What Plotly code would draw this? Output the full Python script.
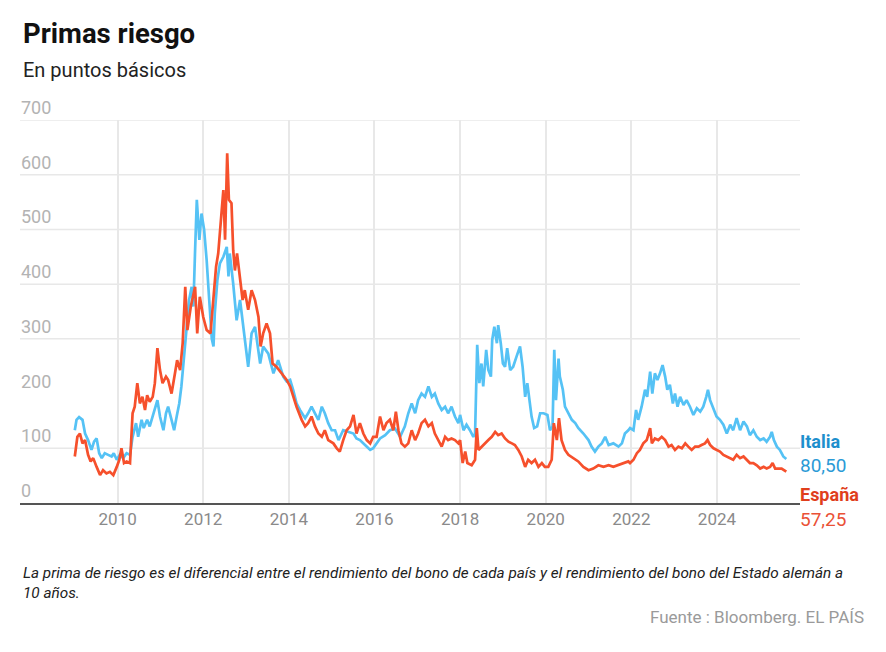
import plotly.graph_objects as go

# ---------------- data ----------------
ITALY_T = [2009.00, 2009.04, 2009.10, 2009.18, 2009.24, 2009.31, 2009.39, 2009.45, 2009.51, 2009.57,
           2009.63, 2009.70, 2009.78, 2009.86, 2009.91, 2009.98, 2010.05, 2010.13, 2010.21, 2010.29,
           2010.35, 2010.43, 2010.48, 2010.56, 2010.61, 2010.69, 2010.75, 2010.82, 2010.87, 2010.93,
           2010.99, 2011.07, 2011.13, 2011.18, 2011.26, 2011.32, 2011.38, 2011.44, 2011.49, 2011.55,
           2011.61, 2011.67, 2011.73, 2011.77, 2011.81, 2011.85, 2011.91, 2011.96, 2012.02, 2012.08,
           2012.14, 2012.20, 2012.24, 2012.27, 2012.33, 2012.39, 2012.47, 2012.55, 2012.59,
           2012.62, 2012.70, 2012.78, 2012.86, 2012.97, 2013.05, 2013.13, 2013.21, 2013.33, 2013.40,
           2013.52, 2013.64, 2013.75, 2013.87, 2013.95,
           2014.03, 2014.10, 2014.18, 2014.26, 2014.38, 2014.45, 2014.53, 2014.61, 2014.69, 2014.77,
           2014.84, 2014.92, 2015.00, 2015.08, 2015.16, 2015.27, 2015.39, 2015.51, 2015.58, 2015.66,
           2015.78, 2015.90, 2015.97, 2016.05, 2016.13, 2016.25, 2016.36, 2016.48, 2016.60, 2016.71,
           2016.79, 2016.87, 2016.95, 2017.02, 2017.10, 2017.18, 2017.26, 2017.34, 2017.41, 2017.49,
           2017.57, 2017.65, 2017.72, 2017.80, 2017.88, 2017.96,
           2018.00, 2018.08, 2018.15, 2018.23, 2018.31, 2018.35, 2018.40, 2018.45, 2018.50, 2018.54,
           2018.61, 2018.66, 2018.72, 2018.75, 2018.80, 2018.86, 2018.89, 2018.95, 2019.00, 2019.05,
           2019.10, 2019.17, 2019.24, 2019.32, 2019.40, 2019.46, 2019.52, 2019.57, 2019.62, 2019.67,
           2019.73, 2019.80, 2019.87, 2019.95, 2020.04, 2020.10, 2020.16, 2020.20, 2020.24, 2020.30,
           2020.33, 2020.40, 2020.45, 2020.53, 2020.61, 2020.69, 2020.76, 2020.88, 2021.00, 2021.07,
           2021.15, 2021.23, 2021.31, 2021.39, 2021.47, 2021.58, 2021.70, 2021.78, 2021.85, 2021.93,
           2021.97, 2022.05, 2022.11, 2022.16, 2022.24, 2022.32, 2022.37, 2022.44, 2022.49, 2022.55,
           2022.61, 2022.67, 2022.73, 2022.79, 2022.84, 2022.90, 2022.97, 2023.02, 2023.08, 2023.14,
           2023.22, 2023.29, 2023.37, 2023.45, 2023.53, 2023.61, 2023.68, 2023.75, 2023.79, 2023.84,
           2023.92, 2023.99, 2024.07, 2024.15, 2024.23, 2024.31, 2024.38, 2024.46, 2024.54, 2024.62,
           2024.70, 2024.77, 2024.85, 2024.93, 2025.01, 2025.09, 2025.16, 2025.24, 2025.28, 2025.33,
           2025.40, 2025.47, 2025.55, 2025.62]
ITALY_V = [133, 152, 157, 152, 127, 115, 97, 112, 118, 91,
           82, 91, 88, 85, 91, 79, 88, 82, 91, 88,
           121, 146, 121, 152, 137, 152, 140, 158, 170, 188,
           158, 133, 164, 176, 152, 133, 158, 182, 213, 261,
           310, 371, 395, 359, 462, 554, 481, 529, 500, 444,
           371, 300, 286, 347, 407, 438, 450, 468, 414,
           456, 401, 334, 371, 298, 249, 310, 322, 255, 286,
           273, 237, 261, 231, 222,
           225, 207, 182, 170, 155, 164, 176, 164, 152, 176,
           164, 146, 133, 133, 115, 133, 130, 127, 118, 115,
           106, 97, 100, 109, 118, 124, 133, 136, 121, 140,
           164, 182, 164, 188, 200, 194, 213, 194, 200, 182,
           170, 176, 164, 176, 158, 146,
           161, 133, 143, 133, 121, 127, 289, 219, 255, 213,
           280, 243, 231, 298, 322, 292, 325, 292, 255, 249,
           283, 243, 249, 268, 286, 249, 194, 219, 188, 158,
           137, 140, 164, 164, 161, 133, 140, 280, 188, 264,
           231, 207, 176, 164, 152, 146, 137, 127, 115, 103,
           94, 103, 109, 121, 106, 109, 103, 109, 127, 133,
           137, 133, 170, 152, 176, 207, 194, 240, 200, 237,
           225, 237, 252, 231, 207, 216, 182, 200, 176, 194,
           179, 188, 176, 161, 173, 167, 176, 194, 207, 188,
           170, 158, 152, 143, 127, 143, 133, 155, 133, 149,
           140, 124, 133, 121, 115, 118, 112, 121, 130, 115,
           103, 97, 85, 80.5]

SPAIN_T = [2009.00, 2009.06, 2009.12, 2009.18, 2009.24, 2009.31, 2009.37, 2009.43, 2009.51, 2009.59,
           2009.66, 2009.74, 2009.82, 2009.90, 2009.98, 2010.04, 2010.09, 2010.15, 2010.21, 2010.29,
           2010.35, 2010.40, 2010.46, 2010.52, 2010.58, 2010.64, 2010.69, 2010.75, 2010.82, 2010.87,
           2010.93, 2010.99, 2011.05, 2011.13, 2011.18, 2011.26, 2011.34, 2011.39, 2011.46, 2011.52,
           2011.58, 2011.63, 2011.71, 2011.77, 2011.81, 2011.86, 2011.92, 2012.00, 2012.08, 2012.17,
           2012.25, 2012.30, 2012.35, 2012.43, 2012.47, 2012.51, 2012.56, 2012.60,
           2012.66, 2012.70, 2012.74, 2012.79, 2012.86, 2012.92, 2012.97, 2013.05, 2013.13, 2013.21,
           2013.29, 2013.34, 2013.40, 2013.48, 2013.56, 2013.62, 2013.71, 2013.83, 2013.95,
           2014.03, 2014.10, 2014.18, 2014.30, 2014.38, 2014.45, 2014.53, 2014.61, 2014.69, 2014.77,
           2014.84, 2014.92, 2015.04, 2015.12, 2015.19, 2015.27, 2015.35, 2015.43, 2015.51, 2015.58,
           2015.66, 2015.74, 2015.82, 2015.90, 2015.97, 2016.05, 2016.13, 2016.21, 2016.28, 2016.36,
           2016.44, 2016.50, 2016.56, 2016.63, 2016.71, 2016.79, 2016.87, 2016.95, 2017.02, 2017.10,
           2017.18, 2017.26, 2017.34, 2017.41, 2017.49, 2017.57, 2017.65, 2017.72, 2017.80, 2017.88,
           2017.96,
           2018.00, 2018.06, 2018.12, 2018.17, 2018.27, 2018.35, 2018.39, 2018.43, 2018.50, 2018.58,
           2018.66, 2018.74, 2018.82, 2018.89, 2018.97, 2019.05, 2019.13, 2019.21, 2019.28, 2019.36,
           2019.44, 2019.52, 2019.59, 2019.67, 2019.75, 2019.83, 2019.91, 2019.98, 2020.06, 2020.14,
           2020.19, 2020.26, 2020.31, 2020.37, 2020.45, 2020.53, 2020.65, 2020.76, 2020.88, 2021.00,
           2021.11, 2021.23, 2021.35, 2021.47, 2021.58, 2021.70, 2021.82, 2021.93,
           2021.97, 2022.05, 2022.13, 2022.20, 2022.28, 2022.36, 2022.44, 2022.48, 2022.55, 2022.63,
           2022.71, 2022.79, 2022.87, 2022.94, 2023.02, 2023.10, 2023.18, 2023.26, 2023.33, 2023.41,
           2023.49, 2023.57, 2023.64, 2023.72, 2023.78, 2023.84, 2023.92, 2023.99, 2024.07, 2024.15,
           2024.23, 2024.31, 2024.38, 2024.46, 2024.54, 2024.62, 2024.70, 2024.77, 2024.85, 2024.93,
           2025.01, 2025.09, 2025.16, 2025.24, 2025.30, 2025.36, 2025.44, 2025.51, 2025.62]
SPAIN_V = [85, 121, 127, 109, 115, 88, 76, 82, 66, 51,
           60, 54, 57, 51, 66, 79, 100, 73, 76, 73,
           164, 176, 219, 182, 194, 170, 197, 185, 194, 219,
           283, 243, 219, 231, 225, 200, 237, 261, 243, 292,
           395, 316, 359, 383, 395, 310, 377, 340, 316, 310,
           395, 432, 456, 541, 572, 481, 639, 554,
           548, 462, 425, 456, 413, 371, 389, 353, 389, 371,
           340, 286, 310, 328, 310, 255, 249, 237, 225,
           213, 194, 176, 152, 140, 146, 158, 140, 127, 121,
           133, 115, 109, 100, 94, 115, 133, 140, 161, 127,
           146, 127, 115, 109, 121, 121, 158, 133, 146, 152,
           133, 167, 133, 109, 103, 109, 133, 115, 127, 146,
           152, 140, 146, 127, 115, 103, 121, 115, 118, 115,
           109,
           115, 73, 94, 73, 69, 79, 137, 97, 103, 109,
           115, 121, 130, 124, 127, 118, 112, 109, 106, 97,
           85, 66, 79, 73, 79, 66, 73, 66, 66, 79,
           146, 115, 155, 115, 97, 88, 82, 76, 66, 60,
           63, 69, 66, 69, 66, 69, 73, 76,
           73, 79, 91, 97, 109, 115, 137, 109, 118, 115,
           121, 115, 103, 106, 97, 103, 100, 109, 103, 97,
           103, 103, 106, 109, 115, 106, 100, 97, 94, 88,
           85, 82, 79, 88, 82, 85, 79, 73, 73, 69,
           63, 66, 63, 66, 73, 63, 63, 63, 57.25]

YEAR_TICKS = [2010, 2012, 2014, 2016, 2018, 2020, 2022, 2024]
Y_TICKS = [0, 100, 200, 300, 400, 500, 600, 700]
GRID_Y = [100, 300, 400, 500, 600, 700]

TITLE = "Primas riesgo"
SUBTITLE = "En puntos básicos"
NOTE = ("La prima de riesgo es el diferencial entre el rendimiento del bono de cada país y el "
        "rendimiento del bono del Estado alemán a<br>10 años.")
SOURCE = "Fuente : Bloomberg. EL PAÍS"
ITALY_NAME, ITALY_LAST = "Italia", "80,50"
SPAIN_NAME, SPAIN_LAST = "España", "57,25"

# ---------------- styling ----------------
BLUE = "#55c2f5"
RED = "#f6502c"
FONT = "Roboto"

W, H = 886, 652
L, R, T, B = 20, 86, 120, 149
PW, PH = W - L - R, H - T - B


def px(x):
    return (x - L) / PW


def py(y):
    return (H - B - y) / PH


fig = go.Figure()
fig.add_trace(go.Scatter(x=ITALY_T, y=ITALY_V, mode="lines", name=ITALY_NAME,
                         line=dict(color=BLUE, width=2.7), hoverinfo="skip"))
fig.add_trace(go.Scatter(x=SPAIN_T, y=SPAIN_V, mode="lines", name=SPAIN_NAME,
                         line=dict(color=RED, width=2.7), hoverinfo="skip"))

shapes = [dict(type="line", xref="paper", x0=0, x1=1, yref="y", y0=v, y1=v,
               line=dict(color="#e8e8e8", width=1.5), layer="below") for v in GRID_Y]

annotations = [
    dict(text=str(v), x=0, y=v, xref="paper", yref="y", xanchor="left", yanchor="bottom",
         showarrow=False, xshift=-1, yshift=0,
         font=dict(family=FONT, size=18, color="#b3b3b3"))
    for v in Y_TICKS
]
annotations += [
    dict(text=f"<b>{TITLE}</b>", x=px(21), y=py(33), xref="paper", yref="paper",
         xanchor="left", yanchor="middle", showarrow=False,
         font=dict(family=FONT, size=27.5, color="#111")),
    dict(text=SUBTITLE, x=px(21), y=py(70), xref="paper", yref="paper",
         xanchor="left", yanchor="middle", showarrow=False,
         font=dict(family=FONT, size=20, color="#222")),
    dict(text=f"<b>{ITALY_NAME}</b>", x=1.0, y=py(441), xref="paper", yref="paper",
         xanchor="left", yanchor="middle", showarrow=False, xshift=-2,
         font=dict(family=FONT, size=18, color="#1d8fcd")),
    dict(text=ITALY_LAST, x=1.0, y=py(465), xref="paper", yref="paper",
         xanchor="left", yanchor="middle", showarrow=False, xshift=-2,
         font=dict(family=FONT, size=19, color="#2b9ad6")),
    dict(text=f"<b>{SPAIN_NAME}</b>", x=1.0, y=py(494), xref="paper", yref="paper",
         xanchor="left", yanchor="middle", showarrow=False, xshift=-2,
         font=dict(family=FONT, size=18, color="#e03e1c")),
    dict(text=SPAIN_LAST, x=1.0, y=py(519), xref="paper", yref="paper",
         xanchor="left", yanchor="middle", showarrow=False, xshift=-2,
         font=dict(family=FONT, size=19, color="#ea5136")),
    dict(text=f"<i>{NOTE}</i>", x=px(21), y=py(562), xref="paper", yref="paper",
         xanchor="left", yanchor="top", align="left", showarrow=False,
         font=dict(family=FONT, size=15.3, color="#222")),
    dict(text=SOURCE, x=px(866), y=py(617), xref="paper", yref="paper",
         xanchor="right", yanchor="middle", showarrow=False,
         font=dict(family=FONT, size=17, color="#9a9a9a")),
]

fig.update_layout(
    width=W, height=H,
    margin=dict(l=L, r=R, t=T, b=B),
    paper_bgcolor="white", plot_bgcolor="white",
    showlegend=False, hovermode=False,
    shapes=shapes, annotations=annotations,
    xaxis=dict(range=[2007.72, 2025.94], tickvals=YEAR_TICKS,
               ticktext=[str(y) for y in YEAR_TICKS],
               showgrid=True, gridcolor="#e8e8e8", gridwidth=1.5,
               showline=True, linecolor="#555", linewidth=2,
               zeroline=False, ticks="", fixedrange=True,
               tickfont=dict(family=FONT, size=17, color="#8a8a8a")),
    yaxis=dict(range=[0, 700], showticklabels=False,
               showgrid=False, zeroline=False, ticks="", fixedrange=True),
)

fig.write_html("out.html")
